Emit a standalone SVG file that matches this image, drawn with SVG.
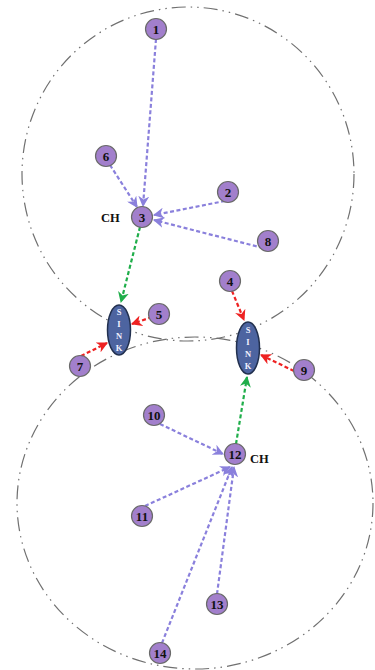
<svg xmlns="http://www.w3.org/2000/svg" width="375" height="670" viewBox="0 0 375 670">
<defs>
<style>
.zone{fill:none;stroke:#707070;stroke-width:1.2;stroke-dasharray:14 5 1.5 5 1.5 5}
.node circle{fill:#a27fcc;stroke:#6a6a6a;stroke-width:1.2}
.node text{font-family:"Liberation Serif",serif;font-weight:bold;font-size:13px;fill:#111;text-anchor:middle;dominant-baseline:central}
.sink ellipse{fill:#4d64a0;stroke:#22304f;stroke-width:1.5}
.sink text{font-family:"Liberation Serif",serif;font-weight:bold;font-size:8.5px;fill:#f2f2ff;text-anchor:middle;dominant-baseline:central}
.node text.lbl{font-size:12.5px;text-anchor:start}
.p{fill:none;stroke:#8a80dc;stroke-width:2.2;stroke-dasharray:4 2.5}
.g{fill:none;stroke:#1fae4a;stroke-width:2.2;stroke-dasharray:4 2.5}
.r{fill:none;stroke:#ee2222;stroke-width:2.2;stroke-dasharray:4 2.5}
</style>
<marker id="ap" viewBox="0 0 10 10" refX="9" refY="5" markerWidth="5" markerHeight="5" orient="auto" markerUnits="strokeWidth"><path d="M0,0 L10,5 L0,10 L3,5 z" fill="#8a80dc"/></marker>
<marker id="ag" viewBox="0 0 10 10" refX="9" refY="5" markerWidth="5" markerHeight="5" orient="auto" markerUnits="strokeWidth"><path d="M0,0 L10,5 L0,10 L3,5 z" fill="#1fae4a"/></marker>
<marker id="ar" viewBox="0 0 10 10" refX="9" refY="5" markerWidth="5" markerHeight="5" orient="auto" markerUnits="strokeWidth"><path d="M0,0 L10,5 L0,10 L3,5 z" fill="#ee2222"/></marker>
</defs>
<rect width="375" height="670" fill="#ffffff"/>
<g id="zones">
<ellipse class="zone" cx="188" cy="174" rx="166" ry="167"/>
<ellipse class="zone" cx="195" cy="503" rx="178" ry="166"/>
</g>
<g id="connectors">
<line class="p" x1="156" y1="39" x2="143" y2="206" marker-end="url(#ap)"/>
<line class="p" x1="110" y1="165" x2="137" y2="207" marker-end="url(#ap)"/>
<line class="p" x1="225" y1="201" x2="154" y2="215" marker-end="url(#ap)"/>
<line class="p" x1="263" y1="248" x2="154" y2="220" marker-end="url(#ap)"/>
<line class="g" x1="140" y1="227" x2="121" y2="302" marker-end="url(#ag)"/>
<line class="r" x1="152" y1="317" x2="132" y2="324" marker-end="url(#ar)"/>
<line class="r" x1="81" y1="356" x2="107" y2="343" marker-end="url(#ar)"/>
<line class="r" x1="232" y1="291" x2="244" y2="320" marker-end="url(#ar)"/>
<line class="r" x1="294" y1="371" x2="261" y2="355" marker-end="url(#ar)"/>
<line class="g" x1="236" y1="444" x2="247" y2="377" marker-end="url(#ag)"/>
<line class="p" x1="160" y1="424" x2="223" y2="454" marker-end="url(#ap)"/>
<line class="p" x1="145" y1="506" x2="230" y2="467" marker-end="url(#ap)"/>
<line class="p" x1="162" y1="643" x2="232" y2="467" marker-end="url(#ap)"/>
<line class="p" x1="217" y1="594" x2="234" y2="467" marker-end="url(#ap)"/>
</g>
<g id="sink1" class="sink"><ellipse cx="119" cy="330" rx="11.5" ry="25"/><text x="119" y="312">S</text><text x="119" y="324">I</text><text x="119" y="336">N</text><text x="119" y="348">K</text></g>
<g id="sink2" class="sink"><ellipse cx="248" cy="348" rx="11.5" ry="26"/><text x="248" y="330">S</text><text x="248" y="342">I</text><text x="248" y="354">N</text><text x="248" y="366">K</text></g>
<g id="n1" class="node"><circle cx="156" cy="29" r="10.5"/><text x="156" y="29">1</text></g>
<g id="n2" class="node"><circle cx="228" cy="192" r="10.5"/><text x="228" y="192">2</text></g>
<g id="n3" class="node"><circle cx="142" cy="217" r="10.5"/><text x="142" y="217">3</text><text class="lbl" x="101" y="218">CH</text></g>
<g id="n4" class="node"><circle cx="230" cy="281" r="10.5"/><text x="230" y="281">4</text></g>
<g id="n5" class="node"><circle cx="159" cy="314" r="10.5"/><text x="159" y="314">5</text></g>
<g id="n6" class="node"><circle cx="106" cy="156" r="10.5"/><text x="106" y="156">6</text></g>
<g id="n7" class="node"><circle cx="80" cy="366" r="10.5"/><text x="80" y="366">7</text></g>
<g id="n8" class="node"><circle cx="268" cy="241" r="10.5"/><text x="268" y="241">8</text></g>
<g id="n9" class="node"><circle cx="304" cy="370" r="10.5"/><text x="304" y="370">9</text></g>
<g id="n10" class="node"><circle cx="154" cy="415" r="10.5"/><text x="154" y="415">10</text></g>
<g id="n11" class="node"><circle cx="142" cy="516" r="10.5"/><text x="142" y="516">11</text></g>
<g id="n12" class="node"><circle cx="235" cy="454" r="10.5"/><text x="235" y="454">12</text><text class="lbl" x="250" y="459">CH</text></g>
<g id="n13" class="node"><circle cx="217" cy="604" r="10.5"/><text x="217" y="604">13</text></g>
<g id="n14" class="node"><circle cx="160" cy="653" r="10.5"/><text x="160" y="653">14</text></g>
</svg>
